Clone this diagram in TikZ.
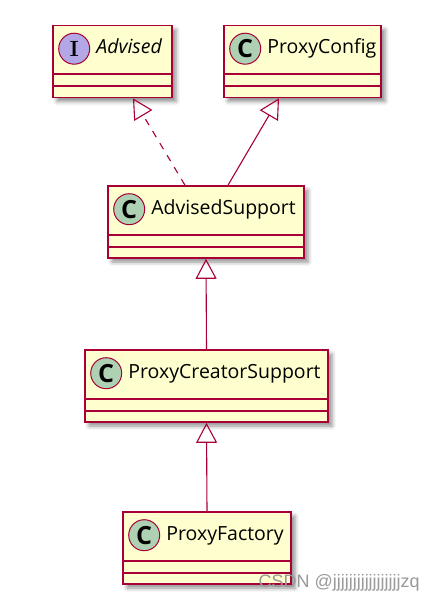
\documentclass[tikz,border=0pt]{standalone}
\usepackage{fontspec}
\usepackage{xcolor}
\newfontfamily\umlfont{Open Sans}
\newfontfamily\markfont{Liberation Sans}
\usetikzlibrary{arrows.meta, positioning, shadows.blur}
\definecolor{umlfill}{HTML}{FEFECE}
\definecolor{umlborder}{HTML}{A80036}
\definecolor{spotclass}{HTML}{ADD1B2}
\definecolor{spotiface}{HTML}{B4A7E5}
\tikzset{
  umlclass/.style = {rectangle, draw=umlborder, fill=umlfill,
                     line width=1.6pt, inner sep=0pt,
                     minimum height=72pt,
                     blur shadow={shadow xshift=4pt, shadow yshift=-4pt,
                                  shadow blur radius=4pt, shadow opacity=45}},
  sep/.style      = {draw=umlborder, line width=1.6pt},
  spot/.style     = {circle, draw=umlborder, line width=1pt,
                     minimum size=31pt, inner sep=0pt},
  cname/.style    = {anchor=west, inner sep=0pt, font=\umlfont\fontsize{19.5}{21}\selectfont,
                     text height=14pt, text depth=4pt},
  extends/.style  = {-{Triangle[open, length=20pt, width=21pt]}, draw=umlborder,
                     line width=1.1pt},
  realizes/.style = {extends, dash pattern=on 7pt off 7pt},
}
\begin{document}
\begin{tikzpicture}[x=1pt, y=-1pt]
\useasboundingbox (0,0) rectangle (434,599);

% ── Classes ─────────────────────────────────────────────
\node[umlclass, minimum width=119pt] (adv) at (112.5,61.5) {};
\node[umlclass, minimum width=157pt] (pc)  at (302.5,61.5) {};
\node[umlclass, minimum width=196pt] (as)  at (206,222) {};
\node[umlclass, minimum width=243pt] (pcs) at (206.5,386) {};
\node[umlclass, minimum width=168pt] (pf)  at (207,548) {};

% ── Compartment lines ───────────────────────────────────
\foreach \n in {adv, pc, as, pcs, pf} {
  \draw[sep] ([yshift=24pt]\n.south west) -- ([yshift=24pt]\n.south east);
  \draw[sep] ([yshift=12pt]\n.south west) -- ([yshift=12pt]\n.south east);
}

% ── Headers ─────────────────────────────────────────────
\node[spot, fill=spotiface] (adv-s) at ([xshift=22pt, yshift=-24pt]adv.north west)
      {\fontsize{22}{22}\selectfont\textbf{I}};
\node[cname, right=6pt of adv-s] (adv-t) {\itshape Advised};

\node[spot, fill=spotclass] (pc-s) at ([xshift=22pt, yshift=-24pt]pc.north west)
      {\umlfont\fontsize{25}{25}\selectfont\textbf{C}};
\node[cname, right=6pt of pc-s] (pc-t) {ProxyConfig};

\node[spot, fill=spotclass] (as-s) at ([xshift=22pt, yshift=-24pt]as.north west)
      {\umlfont\fontsize{25}{25}\selectfont\textbf{C}};
\node[cname, right=6pt of as-s] (as-t) {AdvisedSupport};

\node[spot, fill=spotclass] (pcs-s) at ([xshift=22pt, yshift=-24pt]pcs.north west)
      {\umlfont\fontsize{25}{25}\selectfont\textbf{C}};
\node[cname, right=6pt of pcs-s] (pcs-t) {ProxyCreatorSupport};

\node[spot, fill=spotclass] (pf-s) at ([xshift=22pt, yshift=-24pt]pf.north west)
      {\umlfont\fontsize{25}{25}\selectfont\textbf{C}};
\node[cname, right=6pt of pf-s] (pf-t) {ProxyFactory};

% ── Inheritance ─────────────────────────────────────────
\draw[realizes] ([xshift=-21pt]as.north) -- ([xshift=20.5pt]adv.south);
\draw[extends]  ([xshift=22pt]as.north)  -- ([xshift=-23.5pt]pc.south);
\draw[extends]  (pcs.north) -- (as.south);
\draw[extends]  (pf.north)  -- (pcs.south);

% ── Watermark ───────────────────────────────────────────
\node[anchor=base east, inner sep=0pt, text=black!40,
      font=\markfont\fontsize{18}{18}\selectfont] (mark) at (420,587)
      {CSDN @jjjjjjjjjjjjjjjjjzq};

\end{tikzpicture}
\end{document}
